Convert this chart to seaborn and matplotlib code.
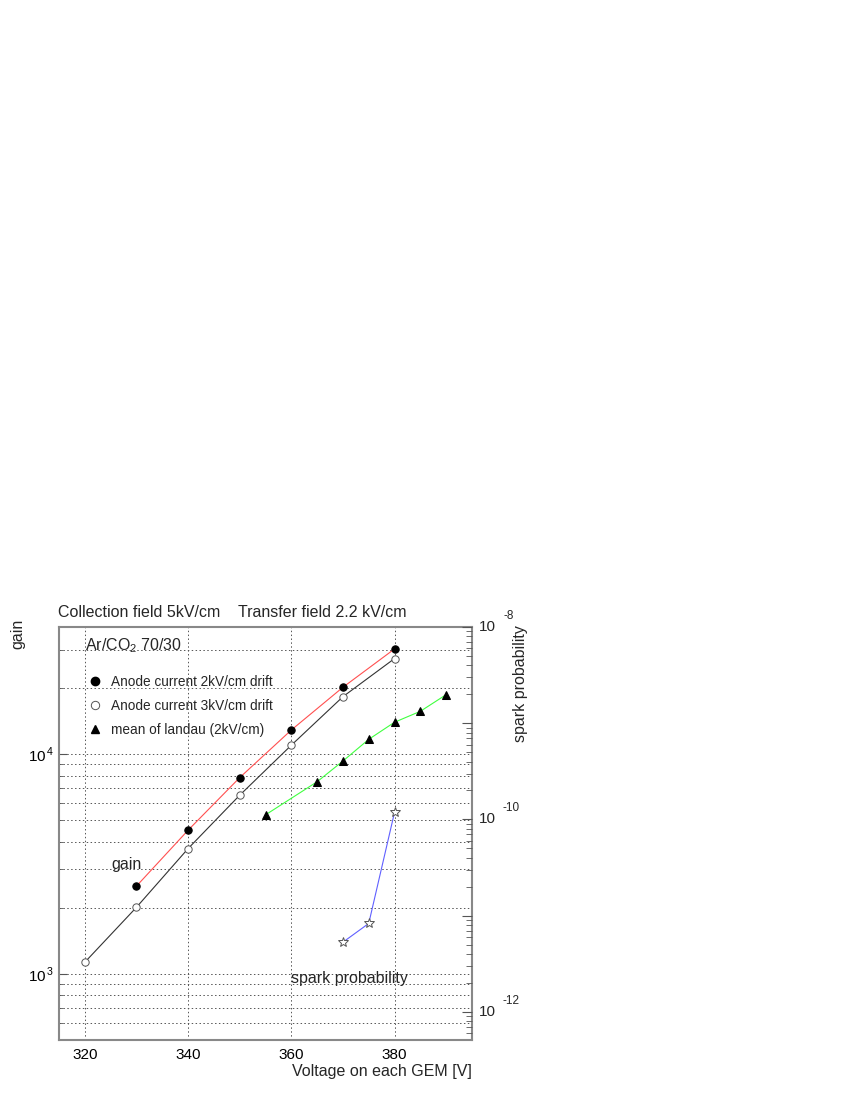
import matplotlib
matplotlib.use("Agg")
import matplotlib.pyplot as plt
from matplotlib.lines import Line2D
from matplotlib.ticker import LogLocator, MultipleLocator, NullFormatter, FixedLocator
import seaborn as sns

# gain vs voltage, anode current 2kV/cm drift
v_2kv = [330, 340, 350, 360, 370, 380]
gain_2kv = [2510, 4510, 7830, 12900, 20200, 30200]

# anode current 3kV/cm drift
v_3kv = [320, 330, 340, 350, 360, 370, 380]
gain_3kv = [1130, 2010, 3720, 6510, 11000, 18300, 27300]

# mean of landau (2kV/cm)
v_landau = [355, 365, 370, 375, 380, 385, 390]
gain_landau = [5300, 7500, 9320, 11700, 14000, 15700, 18700]

# spark probability (right axis)
v_spark = [370, 375, 380]
spark_prob = [5.3e-12, 8.3e-12, 1.19e-10]

xticks = [320, 340, 360, 380]
right_exps = [-8, -10, -12]

sns.set_style("white")
plt.rcParams["font.family"] = ["Liberation Sans", "DejaVu Sans"]
plt.rcParams["mathtext.fontset"] = "custom"
plt.rcParams["mathtext.rm"] = "Liberation Sans"

fig = plt.figure(figsize=(8.5, 11), dpi=100)
ax = fig.add_axes([59 / 850, 1 - 1040 / 1100, 413 / 850, 413 / 1100])

MS = 5.3
sns.lineplot(x=v_2kv, y=gain_2kv, ax=ax, color="#ff5050", lw=0.8,
             marker="o", markersize=MS, markerfacecolor="black",
             markeredgecolor="black", zorder=3)
sns.lineplot(x=v_3kv, y=gain_3kv, ax=ax, color="#333333", lw=0.8,
             marker="o", markersize=MS, markerfacecolor="white",
             markeredgecolor="#555555", markeredgewidth=0.7, zorder=3)
sns.lineplot(x=v_landau, y=gain_landau, ax=ax, color="#40ff40", lw=0.8,
             marker="^", markersize=MS, markerfacecolor="black",
             markeredgecolor="black", zorder=3)

ax.set_yscale("log")
ax.set_xlim(315, 395)
ax.set_ylim(500, 3.8e4)
ax.xaxis.set_major_locator(FixedLocator(xticks))
ax.xaxis.set_minor_locator(MultipleLocator(2))
ax.yaxis.set_minor_locator(LogLocator(base=10, subs=range(2, 10)))
ax.yaxis.set_minor_formatter(NullFormatter())
ax.set_yticks([1e3, 1e4])
ax.set_yticklabels([r"$10^{\,3}$", r"$10^{\,4}$"], fontsize=11)
ax.set_xticklabels([str(t) for t in xticks], fontsize=11)
ax.tick_params(axis="both", which="both", direction="in", colors="#555555", labelcolor="black")
ax.tick_params(axis="x", which="major", length=6, pad=6)
ax.tick_params(axis="x", which="minor", length=3)
ax.tick_params(axis="y", which="major", length=6)
ax.tick_params(axis="y", which="minor", length=3)
ax.grid(True, which="both", axis="y", color="#555555", ls=(0, (1.5, 2.5)), lw=0.7)
ax.grid(True, which="major", axis="x", color="#555555", ls=(0, (1.5, 2.5)), lw=0.7)
for s in ax.spines.values():
    s.set_color("#888888")
    s.set_linewidth(1.5)

ax2 = ax.twinx()
sns.lineplot(x=v_spark, y=spark_prob, ax=ax2, color="#6060ff", lw=0.8,
             marker="*", markersize=7.5, markerfacecolor="white",
             markeredgecolor="#555555", markeredgewidth=0.7, zorder=3)
ax2.set_yscale("log")
ax2.set_ylim(5.1e-13, 1e-8)
ax2.yaxis.set_major_locator(LogLocator(base=10))
ax2.yaxis.set_minor_locator(LogLocator(base=10, subs=range(2, 10)))
ax2.yaxis.set_major_formatter(NullFormatter())
ax2.yaxis.set_minor_formatter(NullFormatter())
ax2.tick_params(axis="y", which="major", direction="in", length=7, colors="#555555")
ax2.tick_params(axis="y", which="minor", direction="in", length=4, colors="#555555")
for s in ax2.spines.values():
    s.set_visible(False)

trans = ax2.get_yaxis_transform()
for e in right_exps:
    ax2.annotate("10", xy=(1, 10.0 ** e), xycoords=trans, xytext=(5, 0),
                 textcoords="offset points", va="center", ha="left", fontsize=11)
    ax2.annotate(str(e), xy=(1, 10.0 ** e), xycoords=trans, xytext=(23 if e == -8 else 22, 8),
                 textcoords="offset points", va="center", ha="left", fontsize=8.5)

fig.text(58 / 850, 1 - 617 / 1100, "Collection field 5kV/cm    Transfer field 2.2 kV/cm",
         fontsize=11.5, ha="left", va="baseline")
fig.text(18 / 850, 1 - 619 / 1100, "gain", rotation=90, fontsize=11.5, ha="center", va="top")
fig.text(521 / 850, 1 - 625 / 1100, "spark probability", rotation=90, fontsize=11.5,
         ha="center", va="top")
fig.text(472 / 850, 1 - 1076 / 1100, "Voltage on each GEM [V]", fontsize=11.5,
         ha="right", va="baseline")

ax.text(85 / 850, 1 - 650 / 1100, r"Ar/CO$_2$ 70/30", transform=fig.transFigure,
        fontsize=11.5, ha="left", va="baseline")
ax.text(111 / 850, 1 - 869 / 1100, "gain", transform=fig.transFigure,
        fontsize=11.5, ha="left", va="baseline")
ax.text(291 / 850, 1 - 983 / 1100, "spark probability", transform=fig.transFigure,
        fontsize=11.5, ha="left", va="baseline")

handles = [
    Line2D([], [], ls="none", marker="o", markersize=6, markerfacecolor="black", markeredgecolor="black"),
    Line2D([], [], ls="none", marker="o", markersize=6, markerfacecolor="white", markeredgecolor="#555555", markeredgewidth=0.7),
    Line2D([], [], ls="none", marker="^", markersize=6, markerfacecolor="black", markeredgecolor="black"),
]
labels = ["Anode current 2kV/cm drift", "Anode current 3kV/cm drift", "mean of landau (2kV/cm)"]
ax.legend(handles, labels, loc="upper left", bbox_to_anchor=(81 / 850, 1 - 668 / 1100),
          bbox_transform=fig.transFigure, frameon=False, fontsize=9.8,
          handlelength=1.0, handletextpad=0.7, labelspacing=0.75, borderpad=0)

fig.savefig("out.png", dpi=100)
